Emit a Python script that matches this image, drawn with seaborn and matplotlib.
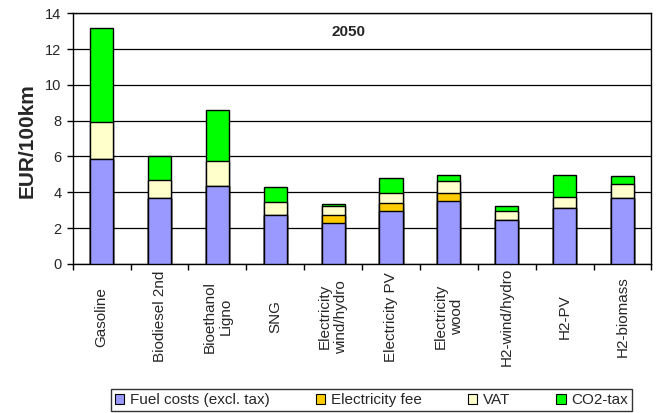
import numpy as np
import pandas as pd
import matplotlib
matplotlib.use("Agg")
import matplotlib.pyplot as plt
from matplotlib.patches import Patch
import seaborn as sns

categories = ["Gasoline", "Biodiesel 2nd", "Bioethanol\nLigno", "SNG",
              "Electricity\nwind/hydro", "Electricity PV", "Electricity\nwood",
              "H2-wind/hydro", "H2-PV", "H2-biomass"]
fuel_costs = [5.85, 3.70, 4.37, 2.72, 2.31, 2.96, 3.52, 2.46, 3.13, 3.70]
electricity_fee = [0.0, 0.0, 0.0, 0.0, 0.44, 0.45, 0.43, 0.0, 0.0, 0.0]
vat = [2.07, 0.98, 1.35, 0.71, 0.47, 0.57, 0.70, 0.50, 0.63, 0.77]
co2_tax = [5.25, 1.32, 2.85, 0.86, 0.15, 0.81, 0.34, 0.26, 1.21, 0.45]

series_names = ["Fuel costs (excl. tax)", "Electricity fee", "VAT", "CO2-tax"]
colors = ["#9999FF", "#FFCC00", "#FFFFCC", "#00FF00"]

sns.set_theme(style="white")
plt.rcParams["font.family"] = ["Liberation Sans", "DejaVu Sans"]

df = pd.DataFrame({
    "category": categories,
    "fuel": fuel_costs,
    "fee": electricity_fee,
    "vat": vat,
    "co2": co2_tax,
})
layers = ["fuel", "fee", "vat", "co2"]
cum = df[layers].cumsum(axis=1)

fig = plt.figure(figsize=(6.58, 4.13), dpi=100)
ax = fig.add_axes([0.1105, 0.361, 0.8795, 0.607])

# draw cumulative stacks from the top layer down so lower layers sit in front
for layer, color in zip(reversed(layers), reversed(colors)):
    sns.barplot(x=df["category"], y=cum[layer], color=color, saturation=1,
                width=0.4, edgecolor="black", linewidth=1.0, ax=ax, zorder=3)

ax.set_xlim(-0.5, len(categories) - 0.5)
ax.set_ylim(0, 14)
ax.set_yticks(np.arange(0, 15, 2))
ax.yaxis.grid(True, color="black", linewidth=0.9)
ax.set_axisbelow(True)
for s in ax.spines.values():
    s.set_visible(True)
    s.set_color("black")
    s.set_linewidth(1.0)

ax.set_xticks(range(len(categories)))
ax.set_xticklabels(categories, rotation=90, fontsize=11, va="center",
                   multialignment="center")
ax.set_xticks(np.arange(-0.5, len(categories), 1), minor=True)
ax.tick_params(axis="x", which="major", length=0, pad=38)
ax.tick_params(axis="x", which="minor", length=4, width=1, color="black", bottom=True)
ax.tick_params(axis="y", length=4, width=1, color="black", left=True,
               labelsize=10.5, pad=4)

ax.set_xlabel("")
ax.set_ylabel("EUR/100km", fontsize=15, fontweight="bold")
ax.yaxis.set_label_coords(-0.063, 0.49)

ax.text(0.476, 0.924, "2050", transform=ax.transAxes, ha="center", va="center",
        fontsize=11, fontweight="bold")

handles = [Patch(facecolor=c, edgecolor="black", linewidth=0.8) for c in colors]
fig.legend(handles, series_names, loc="center", bbox_to_anchor=(0.565, 0.031),
           ncol=4, fontsize=11, frameon=True, fancybox=False, edgecolor="black",
           handlelength=0.6, handleheight=0.6, handletextpad=0.4,
           columnspacing=3.0, borderpad=0.25)

fig.savefig("out.png", dpi=100)
